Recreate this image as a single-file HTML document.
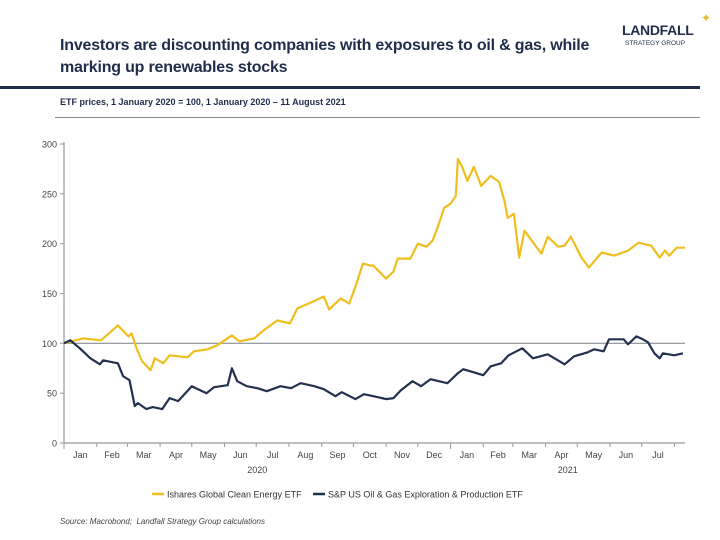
<!DOCTYPE html>
<html><head><meta charset="utf-8"><style>
body{margin:0;background:#fff;font-family:"Liberation Sans",sans-serif;}
#wrap{position:relative;width:720px;height:540px;overflow:hidden;}
.t{position:absolute;white-space:nowrap;}
</style></head><body>
<div id="wrap">
<div class="t" style="left:60px;top:35px;font-size:16px;font-weight:bold;color:#1f2d4a;line-height:22px;letter-spacing:-0.2px">Investors are discounting companies with exposures to oil &amp; gas, while<br>marking up renewables stocks</div>
<div class="t" style="left:622px;top:22px;font-size:14px;font-weight:bold;color:#1f2d4a;letter-spacing:-0.3px">LANDFALL</div>
<div class="t" style="left:625px;top:40px;font-size:6.5px;color:#1f2d4a">STRATEGY GROUP</div>
<div class="t" style="left:701px;top:11px;font-size:12px;color:#e8b92a">✦</div>
<div style="position:absolute;left:0;top:86px;width:700px;height:3px;background:#1f2d4a"></div>
<div class="t" style="left:60px;top:97px;font-size:9px;font-weight:bold;color:#1f2d4a">ETF prices, 1 January 2020 = 100, 1 January 2020 – 11 August 2021</div>
<div style="position:absolute;left:55px;top:117px;width:645px;height:1px;background:#888"></div>
<svg id="chart" width="720" height="540" style="position:absolute;left:0;top:0"></svg>
<div class="t" style="left:60px;top:517px;font-size:8px;font-style:italic;color:#444">Source: Macrobond;&nbsp; Landfall Strategy Group calculations</div>
</div>
<script>
const cleanDays=[0,18,35,51,61,64,69,74,82,86,94,100,117,123,136,145,159,166,180,189,202,214,221,236,246,251,262,270,276,283,290,293,305,312,316,328,335,343,349,355,360,366,371,373,377,382,388,395,404,412,417,420,426,431,436,445,452,458,468,474,480,490,497,509,521,534,544,556,564,569,573,580,588];
const cleanVals=[100,105,103,118,107,110,94,82,73,85,80,88,86,92,94,98,108,102,105,113,123,120,135,142,147,134,145,140,157,180,178,178,165,172,185,185,200,197,203,220,236,240,248,285,277,263,277,258,268,262,243,226,230,186,213,200,190,207,197,198,207,186,176,191,188,193,201,198,186,193,188,196,196];
const oilDays=[0,6,15,25,34,37,51,56,62,67,70,78,84,93,100,108,121,129,135,142,155,159,164,173,183,192,205,215,224,237,246,257,263,276,284,293,305,312,319,330,338,347,363,373,378,397,404,414,421,434,444,458,474,483,496,502,511,516,530,534,542,548,553,559,564,567,578,586];
const oilVals=[100,103,95,85,79,83,80,67,63,37,40,34,36,34,45,42,57,53,50,56,58,75,62,57,55,52,57,55,60,57,54,47,51,44,49,47,44,45,53,62,57,64,60,70,74,68,77,80,88,95,85,89,79,87,91,94,92,104,104,99,107,104,101,90,85,90,88,90];
const yTicks=[0,50,100,150,200,250,300];
const monthLabels=["Jan","Feb","Mar","Apr","May","Jun","Jul","Aug","Sep","Oct","Nov","Dec","Jan","Feb","Mar","Apr","May","Jun","Jul"];
const yearLabels=["2020","2021"];
const X0=64,X1=685,Y0=443,Y1=144,DMAX=588;
const sx=d=>X0+d*(X1-X0)/DMAX, sy=v=>Y0-v*(Y0-Y1)/300;
const svg=document.getElementById('chart');const NS='http://www.w3.org/2000/svg';
function mk(t,a,txt){const e=document.createElementNS(NS,t);for(const k in a)e.setAttribute(k,a[k]);if(txt!=null)e.textContent=txt;svg.appendChild(e);return e;}
let e=mk('line',{x1:X0,y1:Y1-2,x2:X0,y2:Y0,stroke:'#999','stroke-width':1.2});

e=mk('line',{x1:X0,y1:Y0,x2:X1,y2:Y0,stroke:'#999','stroke-width':1.2});

yTicks.forEach(v=>{
 const t=mk('line',{x1:X0-4,y1:sy(v),x2:X0,y2:sy(v),stroke:'#999'});
 
 const l=mk('text',{x:X0-7,y:sy(v)+3.5,'text-anchor':'end','font-size':9,fill:'#444','font-family':'Liberation Sans'},v);
 
});
const start=Date.UTC(2020,0,1);const dayOf=(y,m)=>(Date.UTC(y,m,1)-start)/864e5;
const bounds=[];for(let i=0;i<=19;i++){bounds.push(Math.min(dayOf(2020+Math.floor(i/12),i%12),DMAX));}
bounds.forEach((d,i)=>{const big=(i===0||i===12);
 const t=mk('line',{x1:sx(d),y1:Y0,x2:sx(d),y2:Y0+(big?6:4),stroke:'#999'});
 });
monthLabels.forEach((m,i)=>{const c=(sx(bounds[i])+sx(bounds[i+1]))/2;
 const l=mk('text',{x:c,y:Y0+15,'text-anchor':'middle','font-size':9,fill:'#444','font-family':'Liberation Sans'},m);
 });
yearLabels.forEach((y,i)=>{const c=i===0?(sx(0)+sx(bounds[12]))/2:(sx(bounds[12])+sx(DMAX))/2;
 const l=mk('text',{x:c,y:Y0+30,'text-anchor':'middle','font-size':9,fill:'#444','font-family':'Liberation Sans'},y);
 });
e=mk('line',{x1:X0,y1:sy(100),x2:X1,y2:sy(100),stroke:'#8a8f96','stroke-width':1.2});

function series(days,vals,col,name){const d=days.map((x,i)=>(i?'L':'M')+sx(x).toFixed(1)+','+sy(vals[i]).toFixed(1)).join('');
 const p=mk('path',{d:d,fill:'none',stroke:col,'stroke-width':2.2,'stroke-linejoin':'round'});
 }
series(cleanDays,cleanVals,'#f0be1e','clean-energy-line');
series(oilDays,oilVals,'#23304f','oil-gas-line');
e=mk('line',{x1:152,y1:494,x2:164,y2:494,stroke:'#f0be1e','stroke-width':2.5});

e=mk('text',{x:167,y:497.5,'font-size':9,fill:'#333','font-family':'Liberation Sans'},'Ishares Global Clean Energy ETF');

e=mk('line',{x1:313,y1:494,x2:325,y2:494,stroke:'#23304f','stroke-width':2.5});

e=mk('text',{x:328,y:497.5,'font-size':9,fill:'#333','font-family':'Liberation Sans'},'S&P US Oil & Gas Exploration & Production ETF');

</script>
</body></html>
